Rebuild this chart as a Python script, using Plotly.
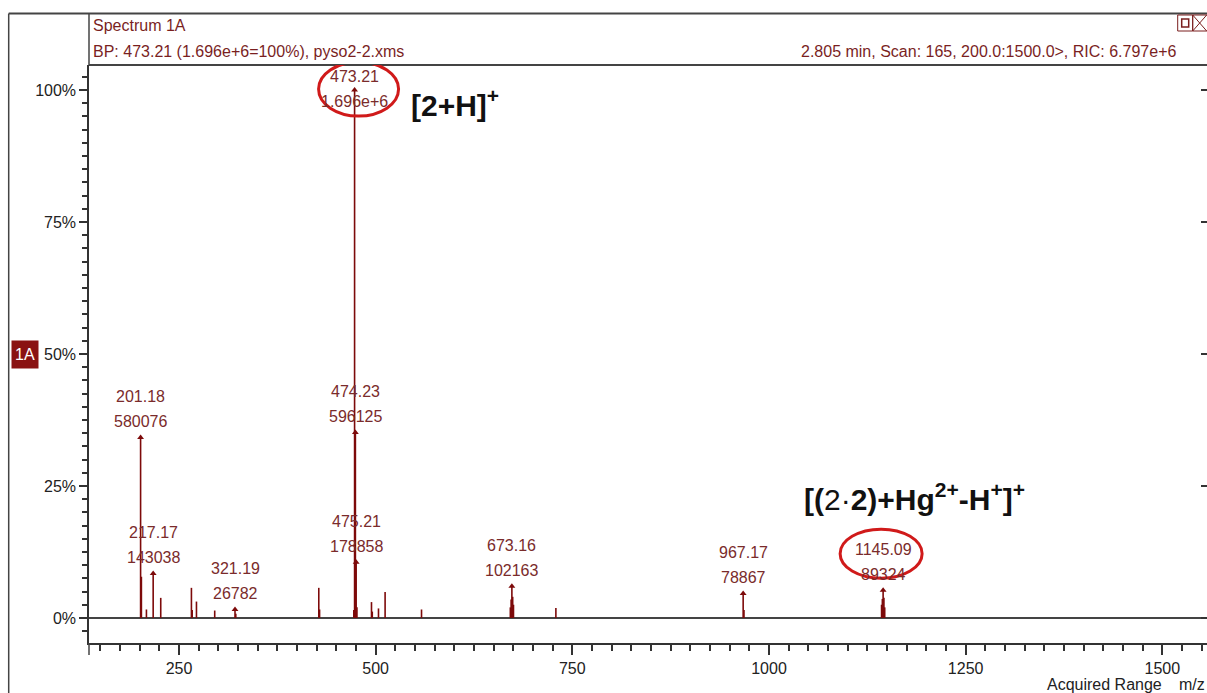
import plotly.graph_objects as go

# ---------------- data ----------------
BASE_PEAK = 1.696e6
# labelled peaks (m/z, absolute intensity)
label_mz = [201.18, 217.17, 321.19, 473.21, 474.23, 475.21, 673.16, 967.17, 1145.09]
label_int = [580076, 143038, 26782, 1696000, 596125, 178858, 102163, 78867, 89324]
label_txt = ["1.696e+6" if v == 1696000 else str(v) for v in label_int]

# unlabelled peaks (m/z, relative %)
other_mz = [202.2, 208.6, 226.8, 265.8, 266.8, 272.2, 295.4, 322.2, 427.7, 428.7,
            472.2, 476.2, 494.7, 495.7, 503.6, 512.0, 558.3, 671.2, 672.2, 674.2,
            675.2, 729.1, 968.2, 1143.1, 1144.1, 1146.1, 1147.1]
other_pct = [7.8, 1.6, 3.8, 5.7, 1.5, 3.1, 1.4, 0.8, 5.7, 1.6,
             1.5, 2.0, 3.0, 1.2, 1.8, 4.9, 1.6, 2.0, 3.5, 4.0,
             2.5, 1.9, 1.5, 2.5, 3.6, 3.8, 2.0]

x_ticks = [250, 500, 750, 1000, 1250, 1500]
y_ticks = [0, 25, 50, 75, 100]
y_tick_text = ["0%", "25%", "50%", "75%", "100%"]

label_pct = [v / BASE_PEAK * 100 for v in label_int]

PEAK = "#7d0a0a"
TXT = "#7a2b2b"
HDR = "#7a1f1f"
FONT = "Liberation Sans, Arial, sans-serif"

all_mz = label_mz + other_mz
all_pct = label_pct + other_pct
sx, sy = [], []
for m, p in zip(all_mz, all_pct):
    sx += [m, m, None]
    sy += [0, p, None]

fig = go.Figure()
fig.add_trace(go.Scatter(x=sx, y=sy, mode="lines", line=dict(color=PEAK, width=1.6),
                         hoverinfo="skip", showlegend=False))
fig.add_trace(go.Scatter(x=label_mz, y=label_pct, mode="markers",
                         marker=dict(symbol="triangle-up", size=6, color=PEAK),
                         hoverinfo="skip", showlegend=False))
fig.add_trace(go.Scatter(x=[None], y=[None], yaxis="y2", showlegend=False))


def py(pix):
    return (643 - pix) / 578


def px(pix):
    return (pix - 89.3) / 1118


lab_font = dict(family=FONT, size=16, color=TXT)
# peak labels: two lines, spaced like the reference
for m, p, t in zip(label_mz, label_pct, label_txt):
    if p >= 99:
        fig.add_annotation(x=m, y=py(77), xref="x", yref="paper", xanchor="center", yanchor="middle",
                           text=f"{m:.2f}", showarrow=False, font=lab_font)
        fig.add_annotation(x=m, y=py(102), xref="x", yref="paper", xanchor="center", yanchor="middle",
                           text=t, showarrow=False, font=lab_font)
    else:
        fig.add_annotation(x=m, y=p, xref="x", yref="y", xanchor="center", yanchor="middle",
                           yshift=16, text=t, showarrow=False, font=lab_font)
        fig.add_annotation(x=m, y=p, xref="x", yref="y", xanchor="center", yanchor="middle",
                           yshift=41, text=f"{m:.2f}", showarrow=False, font=lab_font)

# big black labels
big_font = dict(family=FONT, size=30, color="#111")
fig.add_annotation(x=px(455), y=py(103), xref="paper", yref="paper", xanchor="center", yanchor="middle",
                   text="<b>[2+H]<sup>+</sup></b>", showarrow=False, font=big_font)
fig.add_annotation(x=px(915), y=py(497), xref="paper", yref="paper", xanchor="center", yanchor="middle",
                   text="<b>[(</b>2·<b>2)+Hg<sup>2+</sup>-H<sup>+</sup>]<sup>+</sup></b>", showarrow=False,
                   font=big_font)

# header texts
hdr_font = dict(family=FONT, size=16, color=HDR)
fig.add_annotation(x=px(91), y=py(25), xref="paper", yref="paper", xanchor="left", yanchor="middle",
                   text="Spectrum 1A", showarrow=False, font=hdr_font)
fig.add_annotation(x=px(91), y=py(52), xref="paper", yref="paper", xanchor="left", yanchor="middle",
                   text="BP: 473.21 (1.696e+6=100%), pyso2-2.xms", showarrow=False, font=hdr_font)
fig.add_annotation(x=px(1178), y=py(52), xref="paper", yref="paper", xanchor="right", yanchor="middle",
                   text="2.805 min, Scan: 165, 200.0:1500.0>, RIC: 6.797e+6", showarrow=False,
                   font=hdr_font)
fig.add_annotation(x=px(1045), y=py(684), xref="paper", yref="paper", xanchor="left", yanchor="middle",
                   text="Acquired Range", showarrow=False, font=dict(family=FONT, size=16, color="#222"))
fig.add_annotation(x=1.0, y=py(684), xref="paper", yref="paper", xanchor="right", yanchor="middle",
                   text="m/z", showarrow=False, font=dict(family=FONT, size=16, color="#222"))
fig.add_annotation(x=px(25), y=50, xref="paper", yref="y", xanchor="center", yanchor="middle",
                   text="1A", showarrow=False,
                   bgcolor="#8a1212", width=22, height=23, borderpad=2,
                   font=dict(family=FONT, size=16, color="white"))

frame = "#444"
shapes = [
    dict(type="line", xref="paper", yref="paper", x0=px(9), x1=1.0, y0=py(13.5), y1=py(13.5),
         line=dict(color=frame, width=2)),
    dict(type="line", xref="paper", yref="paper", x0=px(9), x1=px(9), y0=py(13.5), y1=py(693),
         line=dict(color=frame, width=1.5)),
    dict(type="line", xref="paper", yref="paper", x0=0, x1=1.0, y0=1, y1=1,
         line=dict(color=frame, width=2)),
    dict(type="line", xref="paper", yref="paper", x0=0, x1=0, y0=1, y1=py(13.5),
         line=dict(color=frame, width=1.5)),
    dict(type="line", xref="paper", yref="paper", x0=0, x1=0, y0=0, y1=py(655),
         line=dict(color=frame, width=1.5)),
    # window icons
    dict(type="rect", xref="paper", yref="paper", x0=px(1178), x1=px(1193), y0=py(15), y1=py(31),
         line=dict(color=HDR, width=1)),
    dict(type="rect", xref="paper", yref="paper", x0=px(1182), x1=px(1189), y0=py(19), y1=py(27),
         line=dict(color=HDR, width=1.5)),
    dict(type="rect", xref="paper", yref="paper", x0=px(1193), x1=px(1208), y0=py(15), y1=py(31),
         line=dict(color=HDR, width=1)),
    dict(type="line", xref="paper", yref="paper", x0=px(1193), x1=px(1207), y0=py(15), y1=py(31),
         line=dict(color=HDR, width=1)),
    dict(type="line", xref="paper", yref="paper", x0=px(1193), x1=px(1207), y0=py(31), y1=py(15),
         line=dict(color=HDR, width=1)),
    # red ellipses around highlighted labels
    dict(type="circle", xref="x", yref="y", xsizemode="pixel", ysizemode="pixel",
         xanchor=label_mz[3], yanchor=label_pct[3], x0=-36, x1=44, y0=-26, y1=28,
         line=dict(color="#d01a1a", width=3)),
    dict(type="circle", xref="x", yref="y", xsizemode="pixel", ysizemode="pixel",
         xanchor=label_mz[8], yanchor=label_pct[8], x0=-43, x1=39, y0=12, y1=61,
         line=dict(color="#d01a1a", width=3)),
]

fig.update_layout(
    width=1207, height=693,
    margin=dict(l=89, r=0, t=65, b=50),
    paper_bgcolor="white", plot_bgcolor="white",
    shapes=shapes,
    showlegend=False,
    xaxis=dict(range=[135.6, 1556.8], tickmode="array", tickvals=x_ticks,
               ticks="outside", ticklen=10, tickwidth=1.5, tickcolor="#333",
               showline=True, linecolor="#333", linewidth=2, showgrid=False, zeroline=False,
               tickfont=dict(family=FONT, size=16, color="#222"),
               minor=dict(tickmode="linear", tick0=0, dtick=25, ticks="outside",
                          ticklen=6, tickcolor="#333", tickwidth=1.5, showgrid=False)),
    yaxis=dict(range=[-4.75, 104.75], tickmode="array", tickvals=y_ticks, ticktext=y_tick_text,
               ticks="outside", ticklen=8, tickwidth=1.5, tickcolor="#333",
               showline=True, linecolor="#333", linewidth=1.5, showgrid=False,
               zeroline=True, zerolinecolor="#444", zerolinewidth=2,
               tickfont=dict(family=FONT, size=16, color="#222"),
               minor=dict(tickmode="linear", tick0=0, dtick=2.5, ticks="outside",
                          ticklen=5, tickcolor="#333", tickwidth=1.5, showgrid=False)),
    yaxis2=dict(range=[-4.75, 104.75], overlaying="y", side="right", tickmode="array",
                tickvals=y_ticks, ticks="inside", ticklen=6, tickcolor="#333", tickwidth=1.5,
                showticklabels=False, showgrid=False, zeroline=False, showline=False),
)

fig.write_html("out.html")
